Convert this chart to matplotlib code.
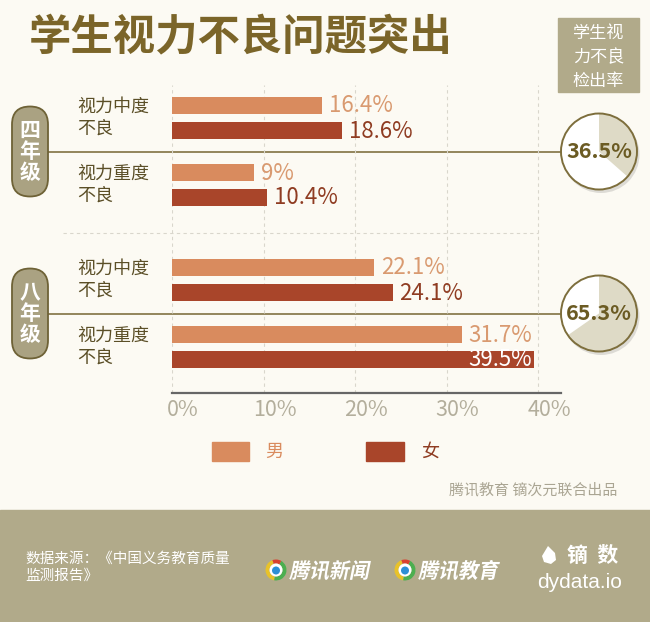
import matplotlib
matplotlib.use('Agg')
import matplotlib.pyplot as plt
from matplotlib.patches import FancyBboxPatch, Rectangle, Circle, Wedge, Polygon, PathPatch
from matplotlib.transforms import ScaledTranslation, Affine2D
from matplotlib.textpath import TextPath
from matplotlib.font_manager import FontProperties

plt.rcParams['font.family'] = ['Noto Sans CJK SC', 'DejaVu Sans']

# data
grades = ['四年级', '八年级']
levels = ['视力中度\n不良', '视力重度\n不良']
male = [16.4, 9.0, 22.1, 31.7]
female = [18.6, 10.4, 24.1, 39.5]
rate = [36.5, 65.3]
ticks = [0, 10, 20, 30, 40]
tick_labels = ['0%', '10%', '20%', '30%', '40%']

# colours
bg_c = '#fcfaf3'
male_c = '#d98b5e'
female_c = '#a9452a'
male_txt = '#d99a70'
female_txt = '#8f3c22'
olive = '#b1aa8a'
dark_olive = '#7b6529'
line_c = '#8a7c50'

fig = plt.figure(figsize=(6.5, 6.22), dpi=100, facecolor=bg_c)

# background layer in pixel coords
bg = fig.add_axes([0, 0, 1, 1], zorder=0)
bg.set_xlim(0, 650)
bg.set_ylim(622, 0)
bg.axis('off')

bg.text(29, 37, '学生视力不良问题突出', fontsize=30.5, fontweight='bold',
        color=dark_olive, ha='left', va='center')

bg.add_patch(Rectangle((558, 18), 81, 74, color=olive))
bg.text(598.5, 57, '学生视\n力不良\n检出率', fontsize=12.3, color='white',
        ha='center', va='center', linespacing=1.4)

# bar axes
top_px, bot_px = 85, 393
ax = fig.add_axes([172 / 650, 1 - bot_px / 622, 389 / 650, (bot_px - top_px) / 622],
                  zorder=1)
ax.patch.set_alpha(0)
ax.set_xlim(0, 42.5)
ax.set_ylim(bot_px - top_px - 33, -33)

pos = [g * 162 + s * 67 for g in range(2) for s in range(2)]
bh = 17.5
ax.barh([p - 12.5 for p in pos], male, height=bh, color=male_c, zorder=3)
ax.barh([p + 12.5 for p in pos], female, height=bh, color=female_c, zorder=3)

for p, v in zip(pos, male):
    ax.text(v + 0.7, p - 12, f'{v:g}%', fontsize=16, color=male_txt,
            ha='left', va='center')
for p, v in zip(pos, female):
    if v > 38:
        ax.text(v - 0.2, p + 13, f'{v:g}%', fontsize=16, color='white',
                ha='right', va='center', zorder=4)
    else:
        ax.text(v + 0.7, p + 13, f'{v:g}%', fontsize=16, color=female_txt,
                ha='left', va='center')

for i, p in enumerate(pos):
    ax.text(-10.4, p, levels[i % 2], fontsize=13, color='#5b4f27',
            ha='left', va='center', linespacing=1.25)

ax.set_xticks(ticks)
ax.set_xticklabels(tick_labels, fontsize=15.5, color='#b3ae9c')
ax.tick_params(axis='x', length=0, pad=4)
ax.set_yticks([])
for lab in ax.get_xticklabels():
    lab.set_transform(lab.get_transform() + ScaledTranslation(11 / 100, 0, fig.dpi_scale_trans))
for s in ['top', 'left', 'right']:
    ax.spines[s].set_visible(False)
ax.spines['bottom'].set_color('#666666')
ax.spines['bottom'].set_linewidth(1.6)
ax.xaxis.grid(True, color='#d9d6cc', lw=0.8, linestyle=(0, (3, 3)))
ax.set_axisbelow(True)

# dashed divider between grades
mid = (pos[1] + pos[2]) / 2
ax.plot([-11.9, 40], [mid, mid], color='#d9d6cc', lw=0.8, linestyle=(0, (3, 3)),
        clip_on=False, zorder=1)

# grade pills, connector lines, rate circles
for g in range(2):
    cy = top_px + 33 + (pos[2 * g] + pos[2 * g + 1]) / 2
    bg.plot([48, 561], [cy, cy], color=line_c, lw=1.3, zorder=1)
    bg.add_patch(FancyBboxPatch((12, cy - 45), 36, 90,
                                boxstyle='round,pad=0,rounding_size=18',
                                fc='#aaa282', ec='#6e6236', lw=1.3, zorder=2))
    bg.text(30, cy, '\n'.join(grades[g]), fontsize=15, fontweight='bold',
            color='white', ha='center', va='center', linespacing=1.0, zorder=3)
    cx = 599
    bg.add_patch(Circle((cx + 2, cy + 3), 38.5, color='black', alpha=0.12, lw=0, zorder=2))
    bg.add_patch(Circle((cx, cy), 38, fc='white', ec='none', zorder=3))
    bg.add_patch(Wedge((cx, cy), 38, 270, 270 + 3.6 * rate[g], fc='#dedac6',
                       ec='none', zorder=3))
    bg.add_patch(Circle((cx, cy), 38, fc='none', ec='#7d6e3c', lw=1.4, zorder=4))
    bg.text(cx, cy, f'{rate[g]:g}%', fontsize=15.5, fontweight='bold',
            color='#6b5b23', ha='center', va='center', zorder=5)

# legend
bg.add_patch(Rectangle((212, 442), 37, 19, color=male_c))
bg.text(265, 452, '男', fontsize=13, color=male_c, ha='left', va='center')
bg.add_patch(Rectangle((366, 442), 38, 19, color=female_c))
bg.text(421, 452, '女', fontsize=13, color=female_txt, ha='left', va='center')

bg.text(617, 490, '腾讯教育 镝次元联合出品', fontsize=10.8, color='#aaa593',
        ha='right', va='center')

# footer
bg.add_patch(Rectangle((0, 510), 650, 112, color=olive, zorder=1))
bg.text(25, 567, '数据来源：《中国义务教育质量\n监测报告》', fontsize=10.5,
        color='white', ha='left', va='center', linespacing=1.3, zorder=2)

bold_fp = FontProperties(family='Noto Sans CJK SC', weight='bold')


def logo(x, y, label):
    bg.add_patch(Wedge((x, y), 10.5, 100, 250, width=4, fc='#e8c22a', zorder=2))
    bg.add_patch(Wedge((x, y), 10.5, -60, 100, width=4, fc='#4caf50', zorder=2))
    bg.add_patch(Wedge((x, y), 10.5, 250, 300, width=4, fc='#d9412f', zorder=2))
    bg.add_patch(Circle((x, y), 6.5, fc='white', zorder=2))
    bg.add_patch(Circle((x, y + 0.5), 4, fc='#2d8fd5', zorder=3))
    tp = TextPath((0, 0), label, size=21, prop=bold_fp)
    tr = Affine2D().skew_deg(12, 0).scale(0.95, -1).translate(x + 13, y + 8)
    bg.add_patch(PathPatch(tr.transform_path(tp), fc='white', lw=0, zorder=3))


logo(276, 570, '腾讯新闻')
logo(405, 570, '腾讯教育')

bg.add_patch(Polygon([(548, 546), (555, 553), (556, 560), (551, 564), (544, 562),
                      (542, 556)], closed=True, fc='white', zorder=2))
bg.text(567, 555, '镝  数', fontsize=15, fontweight='bold', color='white',
        ha='left', va='center', zorder=2)
bg.text(580, 582, 'dydata.io', fontsize=15, color='white', ha='center',
        va='center', family=['Liberation Sans', 'DejaVu Sans'], zorder=2)

fig.savefig('out.png', dpi=100, facecolor=bg_c)
